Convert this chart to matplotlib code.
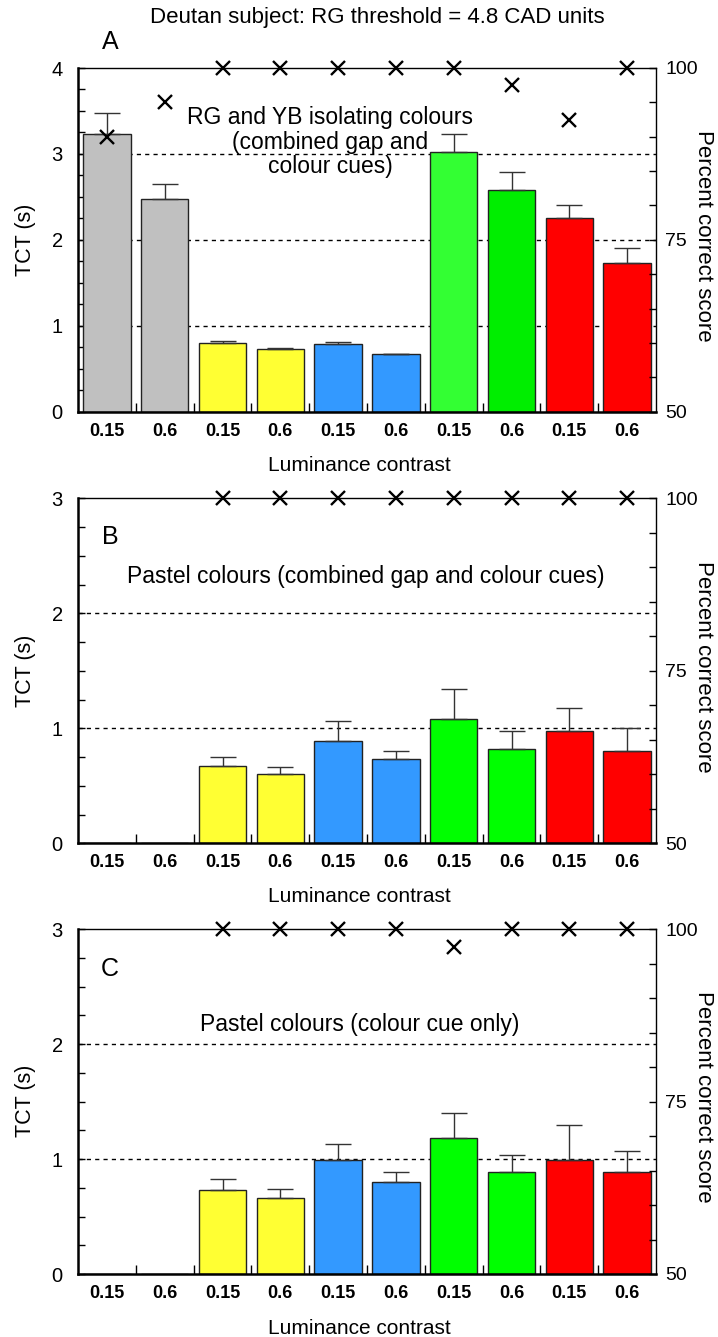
import numpy as np
import matplotlib.pyplot as plt
from matplotlib.ticker import MultipleLocator, FixedLocator

plt.rcParams['font.family'] = ['Liberation Sans', 'DejaVu Sans']

W, H = 718, 1337
nan = np.nan

contrast = ['0.15', '0.6'] * 5
colours_a = ['#c0c0c0', '#c0c0c0', '#ffff33', '#ffff33', '#3399ff', '#3399ff',
             '#33ff33', '#00ee00', '#ff0000', '#ff0000']
colours_bc = ['#c0c0c0', '#c0c0c0', '#ffff33', '#ffff33', '#3399ff', '#3399ff',
              '#00ff00', '#00ff00', '#ff0000', '#ff0000']

# panel A: RG and YB isolating colours
tct_a = [3.23, 2.47, 0.80, 0.73, 0.79, 0.67, 3.02, 2.58, 2.25, 1.73]
err_a = [0.25, 0.18, 0.02, 0.015, 0.02, 0.0, 0.21, 0.21, 0.16, 0.18]
pc_a = [90, 95, 100, 100, 100, 100, 100, 97.5, 92.5, 100]

# panel B: pastel colours, gap + colour cues
tct_b = [nan, nan, 0.67, 0.60, 0.89, 0.73, 1.08, 0.82, 0.98, 0.80]
err_b = [nan, nan, 0.08, 0.06, 0.17, 0.07, 0.26, 0.16, 0.20, 0.20]
pc_b = [nan, nan, 100, 100, 100, 100, 100, 100, 100, 100]

# panel C: pastel colours, colour cue only
tct_c = [nan, nan, 0.73, 0.66, 0.99, 0.80, 1.18, 0.89, 0.99, 0.89]
err_c = [nan, nan, 0.10, 0.08, 0.14, 0.09, 0.22, 0.15, 0.31, 0.18]
pc_c = [nan, nan, 100, 100, 100, 100, 97.5, 100, 100, 100]


def px(x, y):
    return x / W, 1 - y / H


def panel(top, bottom, tct, err, pc, colours, ymax, grid):
    left, right = 78, 656
    ax = fig.add_axes([left / W, 1 - bottom / H, (right - left) / W, (bottom - top) / H])
    x = np.arange(10) + 0.5
    for g in grid:
        ax.axhline(g, color='k', lw=1, ls=(0, (3, 3)), zorder=0)
    ax.bar(x, np.nan_to_num(tct), width=0.82, color=colours,
           edgecolor='#222222', linewidth=1, zorder=2)
    ax.errorbar(x, tct, yerr=[np.zeros(10), err], fmt='none', ecolor='#333333',
                elinewidth=1, capsize=9.5, capthick=1, zorder=3)
    ax.set_xlim(0, 10)
    ax.set_ylim(0, ymax)
    ax.xaxis.set_major_locator(FixedLocator(x))
    ax.set_xticklabels(contrast, fontsize=13, fontweight='bold')
    ax.xaxis.set_minor_locator(FixedLocator(np.arange(1, 10)))
    ax.tick_params(axis='x', which='major', length=0, pad=8)
    ax.tick_params(axis='x', which='minor', direction='in', length=6.5, width=1)
    ax.yaxis.set_major_locator(MultipleLocator(1))
    ax.yaxis.set_minor_locator(MultipleLocator(0.25))
    ax.tick_params(axis='y', which='both', direction='in', length=5, width=1,
                   labelsize=14.5, pad=11)
    for s in ['left', 'bottom']:
        ax.spines[s].set_linewidth(1.8)
    for s in ['top', 'right']:
        ax.spines[s].set_linewidth(1.0)

    ax2 = ax.twinx()
    ax2.set_ylim(50, 100)
    ax2.yaxis.set_major_locator(MultipleLocator(25))
    ax2.yaxis.set_minor_locator(MultipleLocator(5))
    ax2.tick_params(axis='y', which='both', direction='in', length=5, width=1,
                    labelsize=14, pad=6.5)
    for s in ax2.spines.values():
        s.set_visible(False)
    ax2.plot(x, pc, 'x', color='k', ms=10.5, mew=1.7, clip_on=False, zorder=5)
    return ax


fig = plt.figure(figsize=(W / 100, H / 100), dpi=100)

panel(68, 411.7, tct_a, err_a, pc_a, colours_a, 4, [1, 2, 3])
panel(498.3, 843.3, tct_b, err_b, pc_b, colours_bc, 3, [1, 2])
panel(929.3, 1274, tct_c, err_c, pc_c, colours_bc, 3, [1, 2])

fig.text(*px(377, 17), 'Deutan subject: RG threshold = 4.8 CAD units',
         fontsize=16, ha='center', va='center')

letters = [('A', 110, 42), ('B', 110, 537), ('C', 110, 969)]
for t, lx, ly in letters:
    fig.text(*px(lx, ly), t, fontsize=18, ha='center', va='center')

fig.text(*px(330, 142), 'RG and YB isolating colours\n(combined gap and\ncolour cues)',
         fontsize=16.5, ha='center', va='center', linespacing=1.1)
fig.text(*px(366, 577), 'Pastel colours (combined gap and colour cues)',
         fontsize=16.5, ha='center', va='center')
fig.text(*px(360, 1025), 'Pastel colours (colour cue only)',
         fontsize=16.5, ha='center', va='center')

for yl, yt, yr in [(465, 240, 236), (896, 671, 667), (1328, 1101, 1097)]:
    fig.text(*px(359, yl), 'Luminance contrast', fontsize=15, ha='center', va='center')
    fig.text(*px(25, yt), 'TCT (s)', fontsize=15.5, ha='center', va='center', rotation=90)
    fig.text(*px(703, yr), 'Percent correct score', fontsize=16, ha='center',
             va='center', rotation=270)

fig.savefig('out.png', dpi=100)
